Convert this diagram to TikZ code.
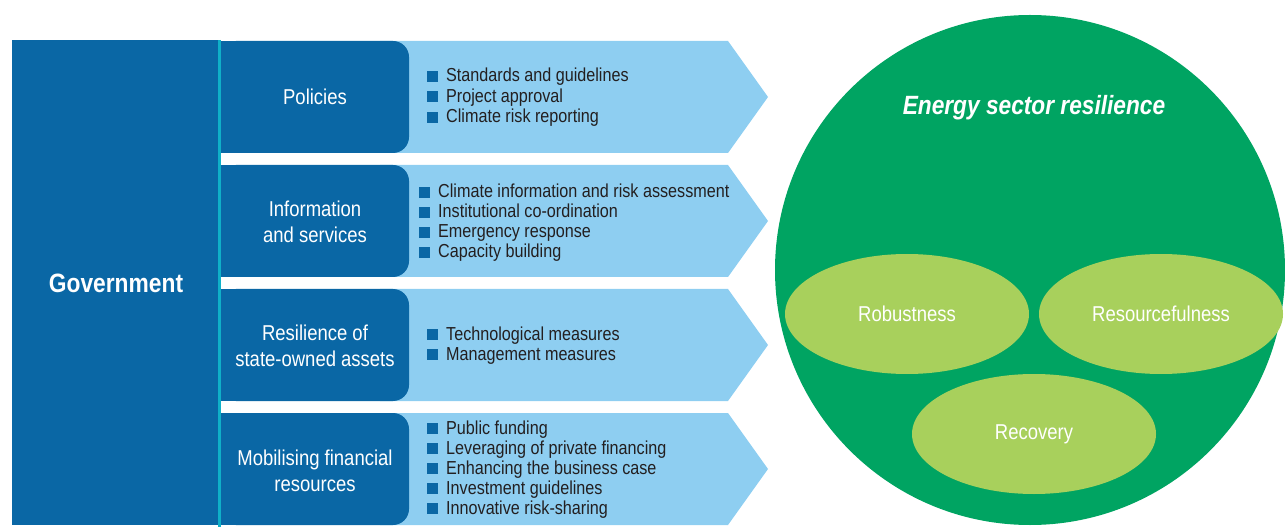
\documentclass[tikz,border=0pt]{standalone}
\usepackage{fontspec}
\setmainfont{Liberation Sans}[FakeStretch=0.86]
\usetikzlibrary{shapes.geometric}
\definecolor{dkblue}{HTML}{0A67A5}
\definecolor{ltblue}{HTML}{8ECEF1}
\definecolor{teal}{HTML}{0FB0C8}
\definecolor{grn}{HTML}{00A462}
\definecolor{ltgrn}{HTML}{A8D05C}
\definecolor{txt}{HTML}{231F20}
\begin{document}
\begin{tikzpicture}[x=1pt,y=-1pt,
  lbl/.style={text=white,align=center,font=\fontsize{21.5}{26}\selectfont,inner sep=0pt},
  item/.style={anchor=base west,inner sep=0pt,text=txt,font=\fontsize{18.8}{20}\selectfont},
  bsq/.style={fill=dkblue,minimum size=11pt,inner sep=0pt,anchor=south west},
  ell/.style={ellipse,fill=ltgrn,minimum width=244pt,minimum height=120pt,inner sep=0pt,text=white,font=\fontsize{21.5}{26}\selectfont}]
\useasboundingbox (0,0) rectangle (1285,529);
% circle
\fill[grn] (1030,270) circle[radius=255];
% rows
\foreach \t/\n in {41/1,165/2,289/3,413/4}{
  \fill[ltblue] (380,\t) -- (728,\t) -- (768,\t+56) -- (728,\t+112) -- (380,\t+112) -- cycle;
  \fill[dkblue,rounded corners=16] (220,\t) rectangle (409,\t+112);
  \fill[dkblue] (220,\t) rectangle (300,\t+112);
}
% government box
\fill[dkblue] (12,40) rectangle (219,525);
\draw[teal,line width=2.4pt] (219.5,40) -- (219.5,527);
\node[text=white,font=\bfseries\fontsize{26.5}{30}\selectfont,inner sep=0pt] (gov) at (116,283) {Government};
% labels
\node[lbl] (pol) at (315,97) {Policies};
\node[lbl] (inf) at (315,222) {Information\\and services};
\node[lbl] (res) at (315,346) {Resilience of\\state-owned assets};
\node[lbl] (mob) at (315,471) {Mobilising financial\\resources};
% bullets
\foreach \y/\s [count=\i] in {82/Standards and guidelines,102.5/Project approval,123/Climate risk reporting}{
  \node[bsq] (pb\i) at (427,\y) {};
  \node[item] (pt\i) at (446,\y) {\s};
}
\foreach \y/\s [count=\i] in {198/Climate information and risk assessment,218/Institutional co-ordination,238/Emergency response,258/Capacity building}{
  \node[bsq] (ib\i) at (419,\y) {};
  \node[item] (it\i) at (438,\y) {\s};
}
\foreach \y/\s [count=\i] in {340/Technological measures,360/Management measures}{
  \node[bsq] (rb\i) at (427,\y) {};
  \node[item] (rt\i) at (446,\y) {\s};
}
\foreach \y/\s [count=\i] in {434/Public funding,454/Leveraging of private financing,474/Enhancing the business case,494/Investment guidelines,514/Innovative risk-sharing}{
  \node[bsq] (mb\i) at (427,\y) {};
  \node[item] (mt\i) at (446,\y) {\s};
}
% resilience
\node[text=white,font=\bfseries\itshape\fontsize{26.4}{30}\selectfont,inner sep=0pt] (esr) at (1034,108) {Energy sector resilience};
\node[ell] (rob) at (907,314) {Robustness};
\node[ell] (rsf) at (1161,314) {Resourcefulness};
\node[ell] (rec) at (1034,434) {Recovery};
\end{tikzpicture}
\end{document}
